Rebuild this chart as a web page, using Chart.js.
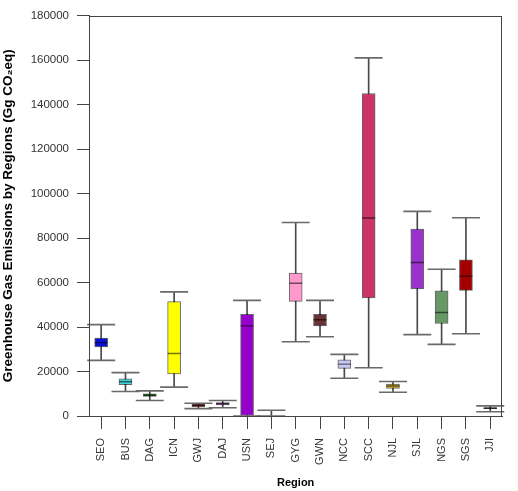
<!DOCTYPE html>
<html>
<head>
<meta charset="utf-8">
<script src="https://cdn.jsdelivr.net/npm/chart.js@4"></script>
<style>
  html, body { margin: 0; padding: 0; background: #fff; }
  #wrap { width: 518px; height: 491px; }
</style>
</head>
<body>
<div id="wrap"><canvas id="c" width="518" height="491"></canvas></div>
<script>
const categories = ['SEO','BUS','DAG','ICN','GWJ','DAJ','USN','SEJ','GYG','GWN','NCC','SCC','NJL','SJL','NGS','SGS','JJI'];
const minVals    = [25000, 11000,  7000, 13000, 3300, 3700,     0,    0, 33400, 35600, 17000,  21700, 10700, 36600, 32200, 37000, 1900];
const q1Vals     = [31000, 14050,  8780, 18900, 4100, 5000,     0, null, 51500, 40500, 21400,  53100, 12450, 57100, 41600, 56500, 3220];
const medianVals = [33000, 15370,  9370, 28100, 4830, 5560, 40500, null, 59700, 43300, 23300,  89000, 13460, 69000, 46500, 62800, 3510];
const q3Vals     = [35000, 16700,  9960, 51400, 5400, 6000, 45700, null, 64200, 45700, 25300, 145000, 14340, 84000, 56300, 70200, 3810];
const maxVals    = [41100, 19500, 11300, 55800, 5700, 7000, 52000, 2600, 87000, 52000, 27700, 161000, 15500, 92000, 66000, 89100, 4540];
const yTicks     = [0, 20000, 40000, 60000, 80000, 100000, 120000, 140000, 160000, 180000];

const fillColors = ['#0a10d6','#44d4dc','#0e6a10','#ffff00','#8e1212','#7a2b8c','#9600cc','#ffffff',
                    '#ff99cc','#6a3234','#c8c8f4','#cc3366','#d6b234','#9a33cc','#669966','#a40000','#111111'];
</script>
<script>
const FONT = "'Liberation Sans', Arial, sans-serif";
const boxFloat = q1Vals.map((q, i) => (q === null ? null : [q, q3Vals[i]]));
const whiskFloat = minVals.map((m, i) => [m, maxVals[i]]);

const framePlugin = {
  id: 'frame',
  afterDraw(chart) {
    const a = chart.chartArea, ctx = chart.ctx;
    ctx.save();
    ctx.strokeStyle = '#444';
    ctx.lineWidth = 1;
    ctx.strokeRect(Math.round(a.left) + 0.5, Math.round(a.top) + 0.5,
                   Math.round(a.right - a.left) - 1, Math.round(a.bottom - a.top));
    ctx.restore();
  }
};

new Chart(document.getElementById('c'), {
  type: 'bar',
  data: {
    labels: categories,
    datasets: [
      {
        type: 'line', label: 'upper cap', data: maxVals, showLine: false,
        pointStyle: 'line', pointRadius: 14, pointBorderWidth: 1.6,
        pointBorderColor: '#6a6a6a', pointBackgroundColor: '#6a6a6a', order: 1
      },
      {
        type: 'line', label: 'lower cap', data: minVals, showLine: false,
        pointStyle: 'line', pointRadius: 14, pointBorderWidth: 1.6,
        pointBorderColor: '#6a6a6a', pointBackgroundColor: '#6a6a6a', order: 1
      },
      {
        type: 'line', label: 'median', data: medianVals, showLine: false,
        pointStyle: 'line', pointRadius: 6.5, pointBorderWidth: 1.4,
        pointBorderColor: 'rgba(0,0,0,0.55)', order: 0
      },
      {
        type: 'bar', label: 'box', data: boxFloat, grouped: false,
        backgroundColor: fillColors, borderColor: 'rgba(0,0,0,0.6)', borderWidth: 1,
        borderSkipped: false, barThickness: 13, order: 2
      },
      {
        type: 'bar', label: 'whisker', data: whiskFloat, grouped: false,
        backgroundColor: '#4a4a4a', borderWidth: 0, barThickness: 1, order: 3
      }
    ]
  },
  options: {
    responsive: false,
    animation: false,
    events: [],
    layout: { padding: { left: 0, right: 4, top: 6, bottom: 0 } },
    plugins: { legend: { display: false }, tooltip: { enabled: false } },
    scales: {
      x: {
        type: 'category',
        offset: true,
        grid: { display: true, drawOnChartArea: false, offset: false, tickLength: 13, color: '#444' },
        border: { display: true, color: '#444' },
        ticks: {
          autoSkip: false, minRotation: 90, maxRotation: 90, padding: 9,
          color: '#333', font: { family: FONT, size: 11 }
        },
        title: {
          display: true, text: 'Region', color: '#000',
          font: { family: FONT, size: 11, weight: 'bold' }, padding: { top: 2, bottom: 1 }
        },
        afterFit(s) { s.height = 75; }
      },
      y: {
        type: 'linear',
        min: 0, max: 180000,
        afterBuildTicks(s) { s.ticks = yTicks.map(v => ({ value: v })); },
        grid: { display: true, drawOnChartArea: false, tickLength: 12, color: '#444' },
        border: { display: true, color: '#444' },
        ticks: { padding: 8, color: '#333', font: { family: FONT, size: 11.5 },
                 callback: v => String(v) },
        title: {
          display: true, text: 'Greenhouse Gas Emissions by Regions (Gg CO₂eq)', color: '#000',
          font: { family: FONT, size: 13.5, weight: 'bold' }, padding: { top: 0, bottom: 2 }
        },
        afterFit(s) { s.width = 89; }
      }
    }
  },
  plugins: [framePlugin]
});
</script>
</body>
</html>
